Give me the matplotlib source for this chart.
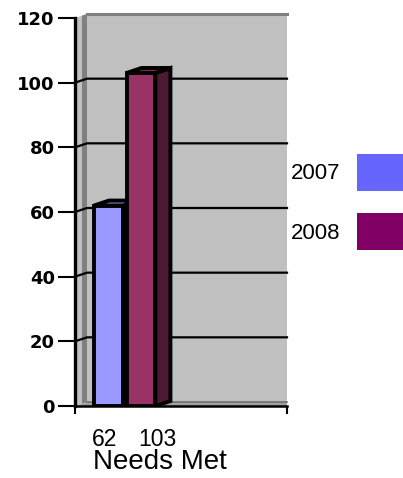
import matplotlib.pyplot as plt
from matplotlib.patches import Polygon, Patch

# Daten
years = ['2007', '2008']
needs_met = [62, 103]
y_ticks = [0, 20, 40, 60, 80, 100, 120]

# Farben (Excel-Stil)
front_colors = ['#9999FF', '#993366']
side_colors = ['#4D4D80', '#4D1A33']
top_colors = ['#7A7ACC', '#7A2952']
legend_colors = ['#6666FF', '#800066']

W, H = 403, 478
fig = plt.figure(figsize=(W / 100, H / 100), dpi=100)
ax = fig.add_axes([75 / W, (H - 406) / H, 212 / W, 388 / H])

xmin = -1.03
xmax = xmin + 212 / 32.5
ax.set_xlim(xmin, xmax)
ax.set_ylim(0, 120)

# Pixel -> Datenkoordinaten
px_x = 212 / (xmax - xmin)
px_y = 388 / 120


def off(dx, dy):
    return dx / px_x, dy / px_y


wdx, wdy = off(12, 4)
bdx, bdy = off(15, 5)

# Rückwand, Seitenwand, Boden
ax.add_patch(Polygon([(xmin + wdx, wdy), (xmax, wdy), (xmax, 120 + wdy), (xmin + wdx, 120 + wdy)],
                     closed=True, facecolor='#C0C0C0', edgecolor='none', zorder=0, clip_on=False))
ax.add_patch(Polygon([(xmin, 0), (xmin + wdx, wdy), (xmin + wdx, 120 + wdy), (xmin, 120)],
                     closed=True, facecolor='#C0C0C0', edgecolor='none', zorder=0, clip_on=False))
sdx, _ = off(5, 0)
ax.add_patch(Polygon([(xmin + wdx - sdx, wdy * 0.6), (xmin + wdx, wdy), (xmin + wdx, 120 + wdy),
                      (xmin + wdx - sdx, 120 + wdy * 0.6)],
                     closed=True, facecolor='#808080', edgecolor='none', zorder=0.5, clip_on=False))
ax.add_patch(Polygon([(xmin, 0), (xmin + wdx, wdy), (xmax, wdy), (xmax, 0)],
                     closed=True, facecolor='#A0A0A0', edgecolor='none', zorder=0.5, clip_on=False))
ax.plot([xmin + wdx, xmax], [wdy, wdy], color='#707070', lw=1.2, zorder=0.6, clip_on=False)
ax.plot([xmin + wdx, xmax], [120 + wdy, 120 + wdy], color='#808080', lw=2.2, zorder=0.6, clip_on=False)

# Gitterlinien auf der Rückwand
for v in y_ticks[1:-1]:
    ax.plot([xmin, xmin + wdx, xmax], [v, v + wdy, v + wdy], color='black', lw=1.6,
            zorder=1, clip_on=False, solid_joinstyle='miter')

# 3D-Säulen
x = [0, 1]
width = 0.89
for i, (xi, v) in enumerate(zip(x, needs_met)):
    z = 3 + i
    left, right = xi - width / 2, xi + width / 2
    ax.add_patch(Polygon([(right, 0), (right + bdx, bdy), (right + bdx, v + bdy), (right, v)],
                         closed=True, facecolor=side_colors[i], edgecolor='black', lw=2.8,
                         joinstyle='miter', zorder=z))
    ax.add_patch(Polygon([(left, v), (left + bdx, v + bdy), (right + bdx, v + bdy), (right, v)],
                         closed=True, facecolor=top_colors[i], edgecolor='black', lw=2.8,
                         joinstyle='miter', zorder=z))
    ax.bar(xi, v, width, color=front_colors[i], edgecolor='black', linewidth=2.8, zorder=z + 0.1)

# Achsen
for s in ['top', 'right']:
    ax.spines[s].set_visible(False)
ax.spines['left'].set_linewidth(2.4)
ax.spines['bottom'].set_linewidth(1.8)
ax.spines['left'].set_zorder(6)
ax.spines['bottom'].set_zorder(6)

ax.set_yticks(y_ticks)
ax.set_yticklabels([str(t) for t in y_ticks], fontweight='bold', family='DejaVu Sans')
ax.tick_params(axis='y', length=12.5, width=1.5, pad=2, labelsize=13, direction='out')

# x-Achse: Endmarken + Wertbeschriftungen
label_x = [-0.12, 1.51]
ax.set_xticks([xmin, xmax])
ax.set_xticklabels(['', ''])
ax.tick_params(axis='x', which='major', length=6, width=1.5, direction='out')
ax.set_xticks(label_x, minor=True)
ax.set_xticklabels([str(v) for v in needs_met], minor=True, family='Liberation Sans')
ax.tick_params(axis='x', which='minor', length=0, pad=16, labelsize=16.5)

ax.set_xlabel('Needs Met', family='Liberation Sans', fontsize=20)
ax.xaxis.set_label_coords((160 - 75) / 212, -0.112)

# Legende
handles = [Patch(facecolor=c, edgecolor='none') for c in legend_colors]
fig.legend(handles, years, loc='center right', bbox_to_anchor=(1.0, 1 - 202 / H),
           frameon=False, markerfirst=False, borderaxespad=0, borderpad=0,
           prop={'family': 'Liberation Sans', 'size': 16},
           handlelength=2.05, handleheight=2.2, handletextpad=0.75, labelspacing=1.0)

fig.savefig('out.png', dpi=100)
